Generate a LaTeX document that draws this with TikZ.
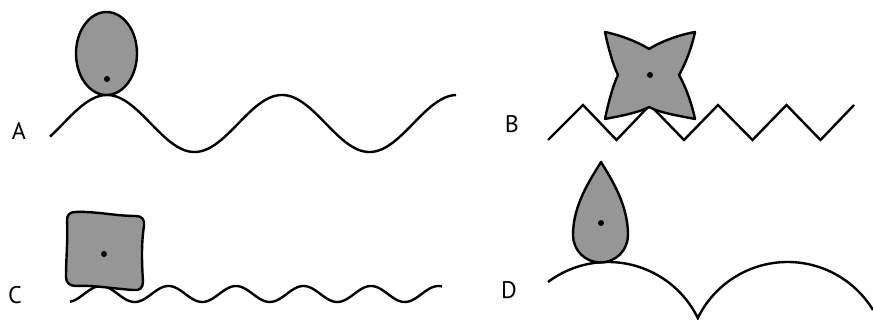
\documentclass[tikz,border=0pt]{standalone}
\usepackage{fontspec}
\setmainfont{PT Sans}
\definecolor{shapegray}{RGB}{150,150,150}
\tikzset{
  curve/.style={line width=2.4pt, black},
  body/.style={line width=2.4pt, draw=black, fill=shapegray, line join=round},
  centerdot/.style={fill=black, draw=none},
  lab/.style={font=\fontsize{24}{24}\selectfont, inner sep=0pt, anchor=center}
}
\begin{document}
\begin{tikzpicture}[x=1pt, y=-1pt]
\useasboundingbox (0,0) rectangle (873,320);

% ---- labels
\node[lab] (labA) at (19,131) {A};
\node[lab] (labB) at (512,124) {B};
\node[lab] (labC) at (15,295) {C};
\node[lab] (labD) at (509,290) {D};

% ---- A: sine wave + ellipse
\draw[curve] plot[domain=50:456, samples=200, smooth] (\x, {123.5-28.5*cos(2.05714*(\x-107))});
\draw[body] (106.5,53.5) ellipse [x radius=30.5, y radius=41.5];
\fill[centerdot] (107,79) circle [radius=3];

% ---- B: zigzag + four-pointed star
\draw[curve] (548,140) -- (583,105) -- (616.5,140) -- (650,105) -- (684,140)
  -- (718,105) -- (752.5,140) -- (786.5,105) -- (820.5,140) -- (854,105);
\draw[body] (605,32) .. controls (620,35) and (638,42) .. (649,49)
  .. controls (660,42) and (678,35) .. (695,32)
  .. controls (692,47) and (685,65) .. (679,75)
  .. controls (685,85) and (692,104) .. (695,119)
  .. controls (680,116) and (660,113) .. (649,107)
  .. controls (638,113) and (620,116) .. (605,119)
  .. controls (608,104) and (613,85) .. (618,75)
  .. controls (613,65) and (608,47) .. (605,32) -- cycle;
\fill[centerdot] (650,75) circle [radius=3];

% ---- C: small wave + rounded square
\draw[curve] plot[domain=70:442, samples=300, smooth] (\x, {294-8*cos(5.33333*(\x-101))});
\draw[body] (75,212) .. controls (95,211) and (115,216) .. (136,216)
  .. controls (142,216) and (145,220) .. (144,226)
  .. controls (141,245) and (142,265) .. (143,282)
  .. controls (143,288) and (139,291) .. (134,290)
  .. controls (115,289) and (95,285) .. (76,286)
  .. controls (70,286) and (66,283) .. (66,277)
  .. controls (66,258) and (68,240) .. (67,220)
  .. controls (67,215) and (70,212) .. (75,212) -- cycle;
\fill[centerdot] (104,254) circle [radius=3];

% ---- D: arcs + drop
\draw[curve, line join=miter] plot[domain=548:697.8, samples=120, smooth] (\x, {362-sqrt(10000-(\x-608)*(\x-608))})
  -- plot[domain=697.8:873, samples=120, smooth] (\x, {362-sqrt(10000-(\x-787.6)*(\x-787.6))});
\draw[body] (601,162) .. controls (612,180) and (628,205) .. (628,235)
  .. controls (628,250.2) and (615.7,262.5) .. (600.5,262.5)
  .. controls (585.3,262.5) and (573,250.2) .. (573,235)
  .. controls (573,205) and (590,180) .. (601,162) -- cycle;
\fill[centerdot] (601,223) circle [radius=3];
\end{tikzpicture}
\end{document}
